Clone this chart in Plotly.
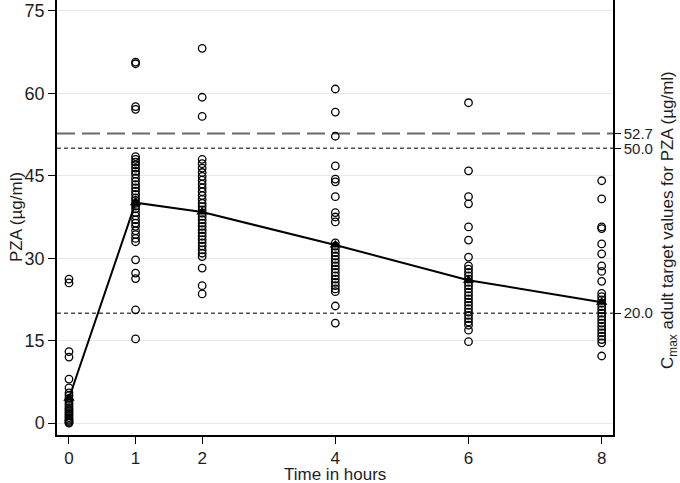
import plotly.graph_objects as go

times = [0, 1, 2, 4, 6, 8]

pza_t0 = [26.2, 25.5, 13.0, 12.0, 8.0, 6.4, 5.5, 5.0, 4.5, 4.0, 3.6, 3.2, 2.8, 2.5,
          2.2, 1.9, 1.6, 1.3, 1.0, 0.7, 0.5, 0.3, 0.1, 0.0]
pza_t1 = [65.7, 65.4, 57.6, 57.1, 48.5, 48.0, 47.5, 47.0, 46.4, 45.8, 45.3, 44.6, 44.0,
          43.4, 42.8, 42.2, 41.6, 41.0, 40.5, 40.0, 39.5, 39.0, 38.3, 37.7, 37.0, 36.4,
          35.8, 35.0, 34.3, 33.6, 33.0, 29.7, 27.3, 26.3, 20.6, 15.3]
pza_t2 = [68.2, 59.3, 55.8, 48.0, 47.2, 46.4, 45.6, 44.9, 44.2, 43.5, 42.8, 42.1, 41.4,
          40.7, 40.0, 39.4, 38.8, 38.2, 37.6, 37.0, 36.4, 35.8, 35.2, 34.6, 34.0, 33.4,
          32.8, 32.2, 31.5, 30.9, 30.3, 28.2, 25.0, 23.5]
pza_t4 = [60.8, 56.6, 52.2, 46.8, 44.4, 43.9, 41.2, 38.3, 37.5, 36.6, 32.8, 32.2, 31.6,
          31.0, 30.4, 29.8, 29.2, 28.6, 28.0, 27.4, 26.8, 26.2, 25.6, 25.0, 24.4, 23.9,
          21.3, 18.2]
pza_t6 = [58.3, 45.9, 41.2, 39.9, 35.7, 33.3, 30.2, 28.6, 28.0, 27.4, 26.8, 26.2, 25.6,
          25.0, 24.4, 23.8, 23.2, 22.6, 22.0, 21.4, 20.8, 20.2, 19.6, 19.0, 18.4, 17.8,
          16.9, 14.8]
pza_t8 = [44.1, 40.8, 35.7, 35.4, 32.6, 30.8, 28.6, 27.6, 25.8, 23.6, 23.0, 22.4, 21.8,
          21.2, 20.6, 20.0, 19.4, 18.8, 18.2, 17.6, 17.0, 16.4, 15.8, 15.2, 14.6, 12.2]

mean_pza = [4.5, 40.1, 38.4, 32.4, 26.0, 22.0]

target_vals = [20.0, 50.0, 52.7]
target_labels = ["20.0", "50.0", "52.7"]

y_ticks = [0, 15, 30, 45, 60, 75]

x_title = "Time in hours"
y_title = "PZA (µg/ml)"
y2_title = "C<sub>max</sub> adult target values for PZA (µg/ml)"

groups = [pza_t0, pza_t1, pza_t2, pza_t4, pza_t6, pza_t8]
xs, ys = [], []
for t, vals in zip(times, groups):
    xs += [t] * len(vals)
    ys += vals

FONT = "Liberation Sans, Arial, sans-serif"
FS = 17
TXT = "#1e1e1e"
fig = go.Figure()

fig.add_trace(go.Scatter(
    x=xs, y=ys, mode="markers",
    marker=dict(symbol="circle-open", size=7.5, color="black", line=dict(width=1.3, color="black")),
    showlegend=False, hoverinfo="skip"))

fig.add_trace(go.Scatter(
    x=times, y=mean_pza, mode="lines+markers",
    line=dict(color="black", width=2),
    marker=dict(symbol="triangle-up", size=10, color="black"),
    showlegend=False))

# invisible trace for right axis
fig.add_trace(go.Scatter(x=[times[0]], y=[target_vals[0]], yaxis="y2", mode="markers",
                         marker=dict(opacity=0), showlegend=False, hoverinfo="skip"))

# reference lines
fig.add_hline(y=target_vals[2], line=dict(color="#6a6a6a", width=2, dash="18px,7px"), layer="below")
fig.add_hline(y=target_vals[1], line=dict(color="#505050", width=1.5, dash="4px,3px"), layer="below")
fig.add_hline(y=target_vals[0], line=dict(color="#505050", width=1.5, dash="4px,3px"), layer="below")

L, R, T, B = 57, 67, 0, 48
W, H = 680, 483
pw, ph = W - L - R, H - T - B

def px_x(px):
    return (px - L) / pw

def px_y(py):
    return (H - B - py) / ph

yr = [-2.18, 77.0]
fig.update_layout(
    width=W, height=H,
    margin=dict(l=L, r=R, t=T, b=B, autoexpand=False),
    plot_bgcolor="white", paper_bgcolor="white",
    font=dict(family=FONT, size=FS, color=TXT),
    xaxis=dict(range=[-0.18, 8.17], tickvals=times, ticks="outside", ticklen=7,
               tickcolor="black", showline=True, linecolor="black", linewidth=1.5,
               showgrid=False, zeroline=False, automargin=False,
               tickfont=dict(size=17)),
    yaxis=dict(range=yr, tickvals=y_ticks, ticks="outside", ticklen=7,
               tickcolor="black", showline=True, linecolor="black", linewidth=1.5,
               showgrid=True, gridcolor="#e8e8e8", gridwidth=1, zeroline=False,
               automargin=False, tickfont=dict(size=18)),
    yaxis2=dict(range=yr, overlaying="y", side="right", tickvals=target_vals,
                ticktext=target_labels, ticks="outside", ticklen=6, tickcolor="black",
                tickfont=dict(size=15), automargin=False,
                showline=True, linecolor="black", linewidth=1.5, showgrid=False,
                zeroline=False),
    annotations=[
        dict(text=x_title, xref="paper", yref="paper", x=0.5, y=px_y(474),
             xanchor="center", yanchor="middle", showarrow=False,
             font=dict(size=FS, family=FONT, color=TXT)),
        dict(text=y_title, xref="paper", yref="paper", x=px_x(16), y=px_y(217),
             xanchor="center", yanchor="middle", showarrow=False, textangle=-90,
             font=dict(size=FS, family=FONT, color=TXT)),
        dict(text=y2_title, xref="paper", yref="paper", x=px_x(669), y=px_y(220),
             xanchor="center", yanchor="middle", showarrow=False, textangle=-90,
             font=dict(size=FS, family=FONT, color=TXT)),
    ],
)

fig.write_html("out.html", config={"displayModeBar": False},
               post_script="document.body.style.margin='0';document.body.style.overflow='hidden';")
